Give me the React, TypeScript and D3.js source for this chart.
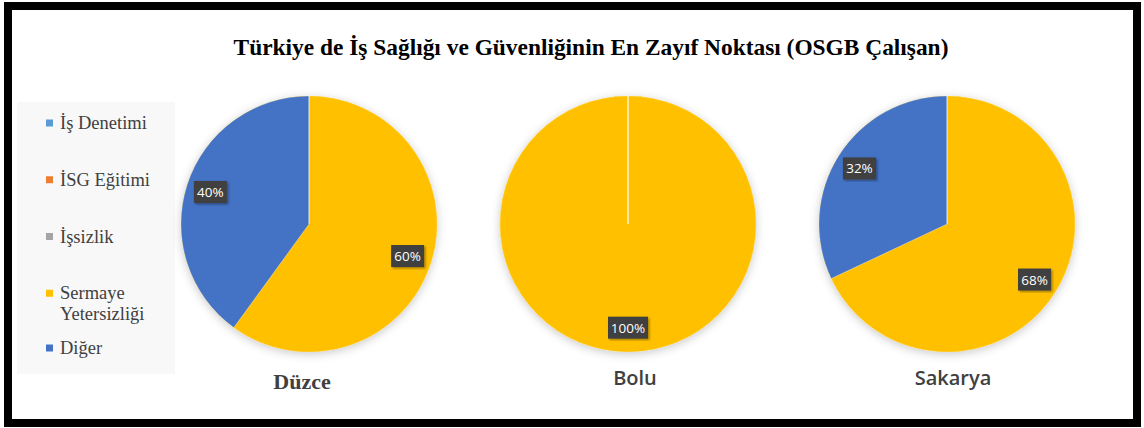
import { useEffect, useRef } from "react";
import * as d3 from "d3";

// chart data
const cities = ["Düzce", "Bolu", "Sakarya"];
const seriesNames = ["İş Denetimi", "İSG Eğitimi", "İşsizlik", "Sermaye Yetersizliği", "Diğer"];
const seriesColors = ["#5B9BD5", "#ED7D31", "#A5A5A5", "#FFC000", "#4472C4"];
const duzceValues = [0, 0, 0, 60, 40];
const boluValues = [0, 0, 0, 100, 0];
const sakaryaValues = [0, 0, 0, 68, 32];
const cityValues = [duzceValues, boluValues, sakaryaValues];
const titleText = "Türkiye de İş Sağlığı ve Güvenliğinin En Zayıf Noktası (OSGB Çalışan)";

const W = 1144;
const H = 428;
const SERIF = "Liberation Serif, Times New Roman, serif";
const SANS = "Open Sans, Liberation Sans, sans-serif";

const App = (): JSX.Element => {
  const svgRef = useRef<SVGSVGElement | null>(null);

  useEffect(() => {
    if (!svgRef.current) return;
    const svg = d3.select(svgRef.current);
    svg.selectAll("*").remove();

    const defs = svg.append("defs");
    const sh = defs
      .append("filter")
      .attr("id", "pieShadow")
      .attr("x", "-20%")
      .attr("y", "-20%")
      .attr("width", "140%")
      .attr("height", "140%");
    sh.append("feDropShadow")
      .attr("dx", 0)
      .attr("dy", 2)
      .attr("stdDeviation", 5)
      .attr("flood-color", "#000")
      .attr("flood-opacity", 0.22);
    const lsh = defs.append("filter").attr("id", "lblShadow");
    lsh
      .append("feDropShadow")
      .attr("dx", 1.5)
      .attr("dy", 1.5)
      .attr("stdDeviation", 1)
      .attr("flood-color", "#000")
      .attr("flood-opacity", 0.35);

    // background + frame
    svg.append("rect").attr("width", W).attr("height", H).attr("fill", "#fff");
    svg
      .append("rect")
      .attr("x", 8)
      .attr("y", 6)
      .attr("width", 1129)
      .attr("height", 417)
      .attr("fill", "#fff")
      .attr("stroke", "#000")
      .attr("stroke-width", 8);

    // title
    svg
      .append("text")
      .attr("x", 591)
      .attr("y", 55)
      .attr("text-anchor", "middle")
      .style("font-family", SERIF)
      .attr("font-weight", "bold")
      .attr("font-size", 23.4)
      .attr("fill", "#000")
      .text(titleText);

    // legend
    const lg = svg.append("g");
    lg.append("rect")
      .attr("x", 17)
      .attr("y", 102)
      .attr("width", 158)
      .attr("height", 272)
      .attr("fill", "#f8f8f8");
    const ly = d3.scaleLinear().domain([0, seriesNames.length - 1]).range([123, 350]);
    seriesNames.forEach((name, i) => {
      const cy = ly(i) - (i === 4 ? 2 : 0);
      const words = name === "Sermaye Yetersizliği" ? ["Sermaye", "Yetersizliği"] : [name];
      lg.append("rect")
        .attr("x", 46)
        .attr("y", cy - 3.5)
        .attr("width", 7)
        .attr("height", 7)
        .attr("fill", seriesColors[i]);
      words.forEach((w, j) => {
        lg.append("text")
          .attr("x", 60)
          .attr("y", cy + 6 + j * 21)
          .style("font-family", SERIF)
          .attr("font-size", 18.5)
          .attr("fill", "#404040")
          .text(w);
      });
    });

    // pies
    const xc = d3.scalePoint<string>().domain(cities).range([309, 947]);
    const R = 128;
    const cy = 224;
    const pie = d3
      .pie<number>()
      .sort(null)
      .value((d) => d);
    const arc = d3.arc<d3.PieArcDatum<number>>().innerRadius(0).outerRadius(R);
    const lblArc = d3
      .arc<d3.PieArcDatum<number>>()
      .innerRadius(R * 0.81)
      .outerRadius(R * 0.81);
    const labelShift = [-7, 7, 6];

    cities.forEach((city, ci) => {
      const g = svg.append("g").attr("transform", `translate(${xc(city)},${cy})`);
      const arcs = pie(cityValues[ci]);
      g.append("circle").attr("r", R).attr("fill", "#FFC000").attr("filter", "url(#pieShadow)");
      g.selectAll("path")
        .data(arcs)
        .enter()
        .append("path")
        .attr("d", arc)
        .attr("fill", (_, i) => seriesColors[i])
        .attr("stroke", "#fff")
        .attr("stroke-opacity", 0.5)
        .attr("stroke-width", (d) => (d.value === 0 ? 1 : 0.5));
      // zero slices leave a thin line at the top
      if (arcs.some((a) => a.value === 0)) {
        const z = arcs.find((a) => a.value === 0)!;
        const [ex, ey] = [R * Math.sin(z.startAngle), -R * Math.cos(z.startAngle)];
        g.append("line")
          .attr("x1", 0)
          .attr("y1", 0)
          .attr("x2", ex)
          .attr("y2", ey)
          .attr("stroke", "#fff")
          .attr("stroke-opacity", 0.6)
          .attr("stroke-width", 1);
      }

      const labels = g
        .selectAll("g.lbl")
        .data(arcs.filter((a) => a.value > 0))
        .enter()
        .append("g")
        .attr("class", "lbl")
        .attr("transform", (d) => {
          const [lx, ly2] = lblArc.centroid(d);
          return `translate(${lx},${ly2})`;
        });
      labels.each(function (d) {
        const sel = d3.select(this);
        const txt = `${d.value}%`;
        const bw = txt.length === 4 ? 40 : 33;
        sel
          .append("rect")
          .attr("x", -bw / 2)
          .attr("y", -11)
          .attr("width", bw)
          .attr("height", 22)
          .attr("fill", "#404040")
          .attr("filter", "url(#lblShadow)");
        sel
          .append("text")
          .attr("text-anchor", "middle")
          .attr("y", 5)
          .style("font-family", SANS)
          .attr("font-size", 13.5)
          .attr("fill", "#fff")
          .text(txt);
      });

      // city label
      const serif = ci === 0;
      svg
        .append("text")
        .attr("x", (xc(city) as number) + labelShift[ci])
        .attr("y", serif ? 389 : 385)
        .attr("text-anchor", "middle")
        .style("font-family", serif ? SERIF : SANS)
        .attr("font-weight", serif ? "bold" : 600)
        .attr("font-size", serif ? 22 : 20)
        .attr("fill", "#404040")
        .text(city);
    });
  }, []);

  return (
    <div style={{ position: "absolute", left: 0, top: 0 }}>
      <svg ref={svgRef} width={W} height={H} style={{ display: "block" }} />
    </div>
  );
};

export default App;
